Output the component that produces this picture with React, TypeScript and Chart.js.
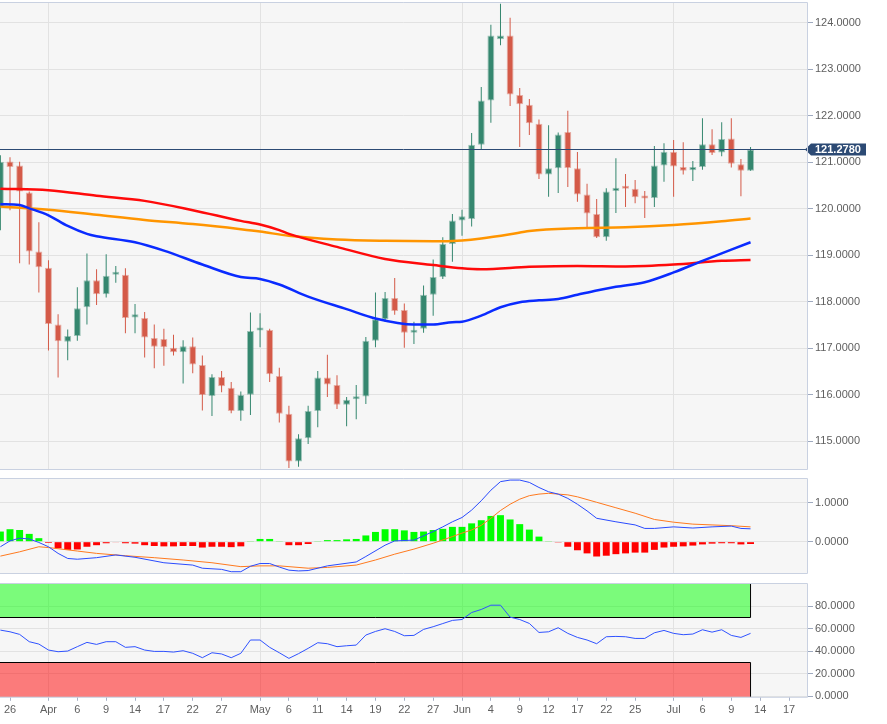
import React, { useEffect, useRef } from 'react';
import { Chart, registerables } from 'chart.js';

Chart.register(...registerables);

// ---------- x axis (trading-day index, 0 = 25 Mar) ----------
const tickIdx = [1, 5, 8, 11, 14, 17, 20, 23, 27, 30, 33, 36, 39, 42, 45, 48, 51, 54, 57, 60, 63, 66, 70, 73, 76, 79, 82];
const tickLabels = ['26', 'Apr', '6', '9', '14', '17', '22', '27', 'May', '6', '11', '14', '19', '22', '27', 'Jun', '4', '9', '12', '17', '22', '25', 'Jul', '6', '9', '14', '17'];
const monthIdx = [5, 27, 48, 70];

// ---------- price candles ----------
const opens = [120.02, 121.02, 120.93, 120.35, 119.08, 118.73, 117.51, 117.14, 117.26, 117.88, 118.46, 118.16, 118.58, 118.58, 117.66, 117.65, 117.22, 117.20, 117.01, 116.91, 117.04, 116.64, 115.97, 116.38, 116.15, 115.65, 116.00, 117.38, 117.39, 116.40, 115.59, 114.56, 115.06, 115.65, 116.37, 116.21, 115.78, 115.90, 115.96, 117.16, 117.62, 118.08, 117.82, 117.33, 117.42, 118.15, 118.53, 119.24, 119.75, 119.78, 121.38, 122.33, 123.65, 123.73, 122.45, 122.24, 121.83, 120.74, 120.87, 121.65, 120.87, 120.31, 119.89, 119.39, 120.38, 120.45, 120.43, 120.24, 120.23, 120.93, 121.23, 120.90, 120.83, 120.90, 121.39, 121.21, 121.51, 120.96, 120.82];
const highs = [121.15, 121.11, 121.01, 120.37, 119.71, 118.89, 117.73, 117.40, 118.31, 119.04, 118.70, 119.02, 118.77, 118.72, 117.95, 117.78, 117.51, 117.42, 117.29, 117.17, 117.23, 116.84, 116.44, 116.51, 116.27, 116.07, 117.77, 117.75, 117.42, 116.58, 115.76, 115.15, 115.76, 116.51, 116.86, 116.42, 115.95, 116.21, 117.24, 118.20, 118.21, 118.51, 117.96, 117.57, 118.35, 118.91, 119.39, 119.89, 119.98, 121.63, 122.62, 123.96, 124.41, 124.11, 122.60, 122.36, 121.92, 121.80, 121.64, 122.11, 121.22, 120.54, 120.21, 120.44, 121.09, 120.75, 120.62, 120.38, 121.35, 121.41, 121.48, 121.43, 121.03, 121.95, 121.71, 121.86, 121.95, 121.07, 121.33];
const lows = [119.54, 119.97, 118.83, 118.80, 118.20, 116.95, 116.37, 116.74, 117.16, 117.51, 117.93, 118.09, 118.41, 117.32, 117.32, 116.80, 116.57, 116.62, 116.84, 116.24, 116.46, 115.66, 115.54, 116.05, 115.60, 115.44, 115.56, 117.02, 116.27, 115.40, 114.42, 114.45, 114.94, 115.30, 115.95, 115.69, 115.32, 115.47, 115.80, 117.02, 117.57, 117.72, 117.01, 117.09, 117.33, 117.70, 118.49, 118.86, 119.42, 119.62, 121.27, 121.85, 123.52, 122.21, 121.33, 121.59, 120.64, 120.26, 120.34, 120.47, 120.15, 119.58, 119.37, 119.31, 119.91, 120.04, 120.12, 119.80, 120.04, 120.58, 120.26, 120.74, 120.60, 120.84, 121.16, 121.13, 120.89, 120.27, 120.82];
const closes = [121.01, 120.90, 120.37, 119.08, 118.74, 117.52, 117.15, 117.26, 117.86, 118.46, 118.16, 118.56, 118.60, 117.65, 117.73, 117.23, 117.03, 117.02, 116.91, 117.04, 116.65, 115.99, 116.38, 116.18, 115.65, 115.99, 117.37, 117.40, 116.44, 115.59, 114.56, 115.06, 115.65, 116.37, 116.22, 115.78, 115.89, 115.95, 117.16, 117.62, 118.08, 117.80, 117.33, 117.39, 118.15, 118.53, 119.24, 119.75, 119.84, 121.38, 122.33, 123.73, 123.73, 122.46, 122.25, 121.84, 120.74, 120.87, 121.60, 120.88, 120.31, 119.90, 119.39, 120.37, 120.45, 120.43, 120.25, 120.22, 120.93, 121.23, 120.91, 120.82, 120.90, 121.39, 121.20, 121.50, 120.97, 120.82, 121.278];
const lastPrice = 121.278;

// ---------- moving averages (index, value) ----------
const blueMaIdx = [0, 2, 3, 5, 7, 9, 10, 14, 17, 21, 25, 27, 29, 32, 36, 39, 43, 45, 47, 48, 50, 52, 54, 56, 58, 60, 62, 64, 67, 70, 73, 76, 78];
const blueMaVal = [120.10, 120.08, 120.01, 119.86, 119.63, 119.46, 119.41, 119.28, 119.10, 118.80, 118.53, 118.49, 118.37, 118.11, 117.84, 117.64, 117.51, 117.51, 117.56, 117.57, 117.70, 117.88, 117.99, 118.03, 118.06, 118.15, 118.24, 118.32, 118.42, 118.63, 118.88, 119.12, 119.28];
const redMaIdx = [0, 5, 10, 15, 20, 25, 27, 29, 30, 35, 40, 45, 48, 50, 55, 60, 65, 70, 75, 78];
const redMaVal = [120.43, 120.40, 120.28, 120.17, 119.97, 119.74, 119.66, 119.54, 119.46, 119.18, 118.92, 118.79, 118.72, 118.70, 118.75, 118.77, 118.76, 118.80, 118.88, 118.90];
const orangeMaIdx = [0, 5, 10, 15, 20, 25, 27, 30, 35, 40, 45, 48, 50, 53, 55, 60, 65, 70, 75, 78];
const orangeMaVal = [120.05, 119.98, 119.87, 119.76, 119.67, 119.56, 119.51, 119.42, 119.34, 119.31, 119.30, 119.32, 119.36, 119.45, 119.52, 119.58, 119.60, 119.65, 119.73, 119.79];

// ---------- MACD ----------
const macdHist = [0.26, 0.32, 0.30, 0.20, 0.09, -0.03, -0.17, -0.21, -0.20, -0.13, -0.09, -0.04, -0.01, -0.04, -0.05, -0.09, -0.11, -0.12, -0.12, -0.11, -0.11, -0.15, -0.13, -0.13, -0.14, -0.12, 0.008, 0.07, 0.07, 0.008, -0.09, -0.09, -0.06, 0.008, 0.04, 0.04, 0.06, 0.07, 0.16, 0.25, 0.32, 0.32, 0.29, 0.25, 0.26, 0.30, 0.33, 0.38, 0.38, 0.47, 0.55, 0.66, 0.68, 0.57, 0.45, 0.31, 0.13, 0.008, -0.02, -0.13, -0.22, -0.30, -0.38, -0.36, -0.32, -0.30, -0.28, -0.28, -0.21, -0.15, -0.13, -0.12, -0.10, -0.07, -0.05, -0.04, -0.04, -0.07, -0.06];
const macdIdx = [0, 1, 2, 3, 4, 5, 6, 7, 8, 10, 12, 14, 17, 20, 21, 23, 24, 25, 26, 27, 28, 29, 30, 31, 32, 34, 37, 38, 40, 41, 43, 45, 46, 47, 48, 49, 50, 51, 52, 53, 54, 55, 56, 57, 58, 59, 60, 61, 62, 64, 66, 67, 68, 70, 72, 74, 76, 77, 78];
const macdVal = [-0.13, 0.02, 0.09, 0.07, -0.02, -0.13, -0.30, -0.43, -0.45, -0.41, -0.34, -0.40, -0.54, -0.60, -0.68, -0.71, -0.77, -0.77, -0.63, -0.56, -0.56, -0.65, -0.73, -0.75, -0.74, -0.62, -0.52, -0.38, -0.09, 0.02, 0.04, 0.26, 0.38, 0.51, 0.62, 0.81, 1.05, 1.32, 1.54, 1.58, 1.58, 1.52, 1.39, 1.28, 1.22, 1.11, 0.96, 0.79, 0.60, 0.51, 0.43, 0.34, 0.34, 0.38, 0.35, 0.38, 0.40, 0.34, 0.33];
const signalIdx = [0, 2, 4, 5, 8, 10, 13, 16, 19, 22, 25, 27, 29, 32, 34, 37, 39, 41, 43, 45, 47, 48, 49, 50, 51, 52, 53, 54, 55, 56, 57, 58, 59, 60, 62, 64, 66, 68, 70, 72, 74, 76, 78];
const signalVal = [-0.37, -0.26, -0.13, -0.15, -0.24, -0.30, -0.36, -0.41, -0.47, -0.54, -0.64, -0.62, -0.62, -0.68, -0.66, -0.60, -0.47, -0.32, -0.19, -0.04, 0.13, 0.22, 0.30, 0.42, 0.60, 0.80, 0.96, 1.09, 1.18, 1.22, 1.24, 1.22, 1.20, 1.15, 1.01, 0.87, 0.73, 0.57, 0.50, 0.45, 0.43, 0.41, 0.38];

// ---------- RSI ----------
const rsi = [58.7, 57.2, 54.9, 48.4, 46.3, 41.0, 39.5, 40.1, 44.0, 47.8, 46.0, 48.4, 48.4, 43.4, 44.0, 41.0, 39.8, 39.8, 39.2, 40.4, 38.1, 34.2, 38.6, 37.5, 34.2, 38.1, 49.9, 49.9, 43.4, 38.6, 33.6, 37.8, 42.5, 47.5, 46.6, 44.0, 44.8, 45.4, 54.3, 57.5, 59.9, 57.5, 53.7, 54.0, 59.3, 61.7, 64.5, 67.3, 68.1, 74.3, 77.0, 80.8, 80.8, 70.2, 68.1, 64.6, 56.6, 57.2, 60.8, 55.8, 52.2, 49.9, 46.6, 52.8, 53.1, 52.8, 51.3, 51.3, 56.3, 58.4, 55.8, 54.6, 55.2, 59.0, 56.9, 59.0, 54.0, 52.2, 55.8];
const rsiUpper = 70;
const rsiLower = 30;

// ---------- styling ----------
const X_MIN = -0.04;
const X_MAX = 83.87;
const GRID = '#e2e2e2';
const FRAME = '#c9d1e1';
const TICK_TEXT = '#5f5f5f';
const UP = '#35876f';
const DOWN = '#d45a48';
const UP_EDGE = 'rgba(53,135,111,0.45)';
const DOWN_EDGE = 'rgba(212,90,72,0.45)';

Chart.defaults.font.family = 'Arial, "Liberation Sans", Helvetica, sans-serif';
Chart.defaults.font.size = 11;

const xScale = (showLabels: boolean): any => ({
  type: 'linear',
  min: X_MIN,
  max: X_MAX,
  offset: false,
  afterBuildTicks: (s: any) => {
    s.ticks = tickIdx.map((v) => ({ value: v }));
  },
  afterFit: (s: any) => {
    s.paddingLeft = 0;
    s.paddingRight = 0;
  },
  grid: {
    offset: false,
    drawTicks: showLabels,
    tickLength: 4,
    tickColor: '#a8b2c6',
    color: (c: any) => (c.tick && monthIdx.includes(c.tick.value) ? GRID : 'rgba(0,0,0,0)'),
  },
  border: { display: false },
  ticks: {
    display: showLabels,
    autoSkip: false,
    maxRotation: 0,
    minRotation: 0,
    color: TICK_TEXT,
    padding: 3,
    font: { size: 11 },
    callback: (_v: any, i: number) => tickLabels[i] ?? '',
  },
});

const yScale = (min: number, max: number, vals: number[]): any => ({
  type: 'linear',
  position: 'right',
  min,
  max,
  afterBuildTicks: (s: any) => {
    s.ticks = vals.map((v) => ({ value: v }));
  },
  afterFit: (s: any) => {
    s.width = 80;
    s.paddingTop = 0;
    s.paddingBottom = 0;
  },
  grid: { color: GRID, drawTicks: true, tickLength: 6, tickColor: '#9ea9bf' },
  border: { display: false },
  ticks: {
    color: TICK_TEXT,
    padding: 2,
    font: { size: 11 },
    callback: (v: any) => Number(v).toFixed(4),
  },
});

const bgPlugin = {
  id: 'panelBg',
  beforeDraw(chart: any) {
    const { ctx, chartArea: a } = chart;
    ctx.save();
    ctx.fillStyle = '#f6f6f6';
    ctx.fillRect(a.left, a.top, a.right - a.left, a.bottom - a.top);
    ctx.restore();
  },
};

const framePlugin = {
  id: 'frame',
  afterDraw(chart: any) {
    const { ctx, chartArea: a } = chart;
    const t = a.top + 0.5;
    const b = a.bottom + 0.5;
    const r = a.right + 0.5;
    ctx.save();
    ctx.strokeStyle = FRAME;
    ctx.lineWidth = 1;
    ctx.beginPath();
    ctx.moveTo(a.left, t);
    ctx.lineTo(r, t);
    ctx.lineTo(r, b);
    ctx.lineTo(a.left, b);
    ctx.stroke();
    ctx.restore();
  },
};

const pricePlugin = {
  id: 'priceLine',
  afterDatasetsDraw(chart: any) {
    const { ctx, chartArea: a, scales } = chart;
    const y = Math.round(scales.y.getPixelForValue(lastPrice)) + 0.5;
    ctx.save();
    ctx.strokeStyle = '#2c4a74';
    ctx.lineWidth = 1;
    ctx.beginPath();
    ctx.moveTo(a.left, y);
    ctx.lineTo(a.right, y);
    ctx.stroke();
    ctx.fillStyle = '#2c4a74';
    ctx.beginPath();
    ctx.moveTo(a.right - 2, y);
    ctx.lineTo(a.right + 4, y - 6);
    ctx.lineTo(a.right + 59, y - 6);
    ctx.lineTo(a.right + 59, y + 6);
    ctx.lineTo(a.right + 4, y + 6);
    ctx.closePath();
    ctx.fill();
    ctx.fillStyle = '#ffffff';
    ctx.font = 'bold 11px Arial, "Liberation Sans", sans-serif';
    ctx.textAlign = 'left';
    ctx.textBaseline = 'middle';
    ctx.fillText(lastPrice.toFixed(4), a.right + 8, y + 0.5);
    ctx.restore();
  },
};

const bandPlugin = {
  id: 'rsiBands',
  beforeDatasetsDraw(chart: any) {
    const { ctx, chartArea: a, scales } = chart;
    const xr = scales.x.getPixelForValue(rsi.length - 1);
    const yTop = Math.max(a.top, scales.y.getPixelForValue(100));
    const yUp = scales.y.getPixelForValue(rsiUpper);
    const yLo = scales.y.getPixelForValue(rsiLower);
    const yBot = a.bottom;
    ctx.save();
    ctx.fillStyle = 'rgba(0,255,0,0.5)';
    ctx.fillRect(a.left, yTop, xr - a.left, yUp - yTop);
    ctx.fillStyle = 'rgba(255,0,0,0.5)';
    ctx.fillRect(a.left, yLo, xr - a.left, yBot - yLo);
    ctx.strokeStyle = '#000000';
    ctx.lineWidth = 1;
    ctx.beginPath();
    ctx.moveTo(a.left, Math.round(yUp) + 0.5);
    ctx.lineTo(xr, Math.round(yUp) + 0.5);
    ctx.lineTo(xr, yTop);
    ctx.moveTo(a.left, Math.round(yLo) + 0.5);
    ctx.lineTo(xr, Math.round(yLo) + 0.5);
    ctx.lineTo(xr, yBot);
    ctx.stroke();
    ctx.restore();
  },
};

const pts = (idx: number[], val: number[]) => idx.map((x, i) => ({ x, y: val[i] }));

function mainConfig(): any {
  const up = (i: number) => closes[i] >= opens[i];
  return {
    type: 'line',
    data: {
      datasets: [
        {
          type: 'line',
          data: pts(blueMaIdx, blueMaVal),
          borderColor: '#0a2bff',
          borderWidth: 2.5,
          pointRadius: 0,
          cubicInterpolationMode: 'monotone',
          order: 0,
        },
        {
          type: 'line',
          data: pts(redMaIdx, redMaVal),
          borderColor: '#ff0a0a',
          borderWidth: 2.5,
          pointRadius: 0,
          cubicInterpolationMode: 'monotone',
          order: 0,
        },
        {
          type: 'line',
          data: pts(orangeMaIdx, orangeMaVal),
          borderColor: '#ff9500',
          borderWidth: 2.5,
          pointRadius: 0,
          cubicInterpolationMode: 'monotone',
          order: 0,
        },
        {
          type: 'bar',
          data: opens.map((o, i) => ({ x: i, y: [o, closes[i]] })),
          backgroundColor: opens.map((_o, i) => (up(i) ? UP : DOWN)),
          borderColor: opens.map((_o, i) => (up(i) ? UP_EDGE : DOWN_EDGE)),
          borderWidth: 1,
          borderSkipped: false,
          grouped: false,
          maxBarThickness: 7,
          minBarLength: 3,
          order: 1,
        },
        {
          type: 'bar',
          data: lows.map((l, i) => ({ x: i, y: [l, highs[i]] })),
          backgroundColor: lows.map((_l, i) => (up(i) ? UP : DOWN)),
          borderWidth: 0,
          grouped: false,
          maxBarThickness: 1,
          order: 2,
        },
      ],
    },
    options: {
      responsive: false,
      animation: false,
      devicePixelRatio: 1,
      layout: { padding: { top: 2, bottom: 3, left: 0, right: 0 } },
      plugins: { legend: { display: false }, tooltip: { enabled: false } },
      events: [],
      scales: {
        x: xScale(false),
        y: yScale(114.4, 124.45, [115, 116, 117, 118, 119, 120, 121, 122, 123, 124]),
      },
    },
    plugins: [bgPlugin, pricePlugin, framePlugin],
  };
}

function macdConfig(): any {
  return {
    type: 'line',
    data: {
      datasets: [
        {
          type: 'line',
          data: pts(macdIdx, macdVal),
          borderColor: '#2a4bff',
          borderWidth: 1,
          pointRadius: 0,
          order: 0,
        },
        {
          type: 'line',
          data: pts(signalIdx, signalVal),
          borderColor: '#ff7a1f',
          borderWidth: 1,
          pointRadius: 0,
          order: 0,
        },
        {
          type: 'bar',
          data: macdHist.map((v, i) => ({ x: i, y: v })),
          backgroundColor: macdHist.map((v) => (v >= 0 ? '#00ff00' : '#ff0000')),
          borderWidth: 0,
          grouped: false,
          maxBarThickness: 7,
          base: 0,
          order: 1,
        },
      ],
    },
    options: {
      responsive: false,
      animation: false,
      devicePixelRatio: 1,
      layout: { padding: { top: 4, bottom: 4, left: 0, right: 0 } },
      plugins: { legend: { display: false }, tooltip: { enabled: false } },
      events: [],
      scales: {
        x: xScale(false),
        y: yScale(-0.803, 1.633, [0, 1]),
      },
    },
    plugins: [bgPlugin, framePlugin],
  };
}

function rsiConfig(): any {
  return {
    type: 'line',
    data: {
      datasets: [
        {
          type: 'line',
          data: rsi.map((v, i) => ({ x: i, y: v })),
          borderColor: '#2f52ff',
          borderWidth: 1,
          pointRadius: 0,
        },
      ],
    },
    options: {
      responsive: false,
      animation: false,
      devicePixelRatio: 1,
      layout: { padding: { top: 4, bottom: 4, left: 0, right: 0 } },
      plugins: { legend: { display: false }, tooltip: { enabled: false } },
      events: [],
      scales: {
        x: xScale(true),
        y: yScale(-0.5, 100.5, [0, 20, 40, 60, 80]),
      },
    },
    plugins: [bgPlugin, bandPlugin, framePlugin],
  };
}

export default function App() {
  const refA = useRef<HTMLCanvasElement>(null);
  const refB = useRef<HTMLCanvasElement>(null);
  const refC = useRef<HTMLCanvasElement>(null);

  useEffect(() => {
    document.body.style.margin = '0';
    const charts = [
      new Chart(refA.current as HTMLCanvasElement, mainConfig()),
      new Chart(refB.current as HTMLCanvasElement, macdConfig()),
      new Chart(refC.current as HTMLCanvasElement, rsiConfig()),
    ];
    return () => charts.forEach((c) => c.destroy());
  }, []);

  return (
    <div style={{ position: 'relative', width: 887, height: 724, background: '#ffffff' }}>
      <canvas ref={refA} width={887} height={472} style={{ position: 'absolute', left: 0, top: 0, width: 887, height: 472 }} />
      <canvas ref={refB} width={887} height={103} style={{ position: 'absolute', left: 0, top: 474, width: 887, height: 103 }} />
      <canvas ref={refC} width={887} height={145} style={{ position: 'absolute', left: 0, top: 579, width: 887, height: 145 }} />
    </div>
  );
}
